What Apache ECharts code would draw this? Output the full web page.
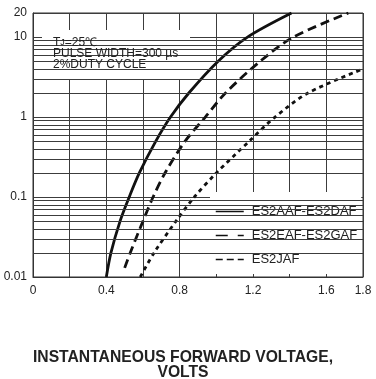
<!DOCTYPE html>
<html>
<head>
<meta charset="utf-8">
<script src="https://cdn.jsdelivr.net/npm/echarts@6/dist/echarts.min.js"></script>
<style>
  html, body { margin: 0; padding: 0; background: #fff; }
  #chart { width: 376px; height: 379px; }
</style>
</head>
<body>
<div id="chart"></div>
<script>
// forward voltage (V) vs forward current (A)
const seriesNames = ['ES2AAF-ES2DAF', 'ES2EAF-ES2GAF', 'ES2JAF'];
const es2aData = [[0.40, 0.01], [0.425, 0.02], [0.475, 0.05], [0.525, 0.1], [0.58, 0.2], [0.67, 0.5], [0.75, 1], [0.85, 2], [1.01, 5], [1.17, 10], [1.41, 20]];
const es2eData = [[0.50, 0.013], [0.53, 0.02], [0.60, 0.05], [0.655, 0.1], [0.72, 0.2], [0.83, 0.5], [0.94, 1], [1.05, 2], [1.24, 5], [1.42, 10], [1.72, 20]];
const es2jData = [[0.585, 0.01], [0.66, 0.02], [0.78, 0.05], [0.88, 0.1], [1.00, 0.2], [1.18, 0.5], [1.32, 1], [1.50, 2], [1.80, 4]];

const xTickLabels = ['0', '0.4', '0.8', '1.2', '1.6', '1.8'];
const yMinorLines = [0.02, 0.03, 0.04, 0.05, 0.06, 0.07, 0.08, 0.09,
  0.2, 0.3, 0.4, 0.5, 0.6, 0.7, 0.8, 0.9,
  2, 3, 4, 5, 6, 7, 8, 9];

const FONT = 'Liberation Sans';
const gridColor = '#3c3c3c';

let chart = echarts.init(document.getElementById('chart'));

function curve(name, data, dash) {
  return {
    name: name,
    type: 'line',
    symbol: 'none',
    smooth: 0.3,
    lineStyle: { color: '#111', width: 2.8, type: dash },
    itemStyle: { color: '#111' },
    data: data
  }
}

let series = [
  curve(seriesNames[0], es2aData, 'solid'),
  curve(seriesNames[1], es2eData, [9, 5]),
  curve(seriesNames[2], es2jData, [4, 4])
]
// minor log grid lines
series[0].markLine = {
  silent: true,
  symbol: ['none', 'none'],
  label: { show: false },
  lineStyle: { color: gridColor, width: 1, type: 'solid' },
  data: yMinorLines.map(v => ({ yAxis: v }))
}

let option = {
  animation: false,
  grid: {
    left: 33, right: 13, top: 13, bottom: 102,
    show: true, borderColor: '#333', borderWidth: 1
  },
  xAxis: {
    type: 'value',
    min: 0, max: 1.8, interval: 0.2,
    axisLine: { show: true, lineStyle: { color: '#333' } },
    axisTick: { show: false },
    splitLine: { show: true, lineStyle: { color: gridColor, width: 1 } },
    axisLabel: {
      color: '#222', fontSize: 12, fontFamily: FONT, margin: 8,
      formatter: function (value) {
        let hit = xTickLabels.find(t => Math.abs(parseFloat(t) - value) < 1e-6)
        return hit === undefined ? '' : hit
      }
    }
  },
  yAxis: {
    type: 'log', logBase: 10,
    min: 0.01, max: 20,
    axisLine: { show: true, lineStyle: { color: '#333' } },
    axisTick: { show: false },
    splitLine: { show: true, lineStyle: { color: gridColor, width: 1 } },
    axisLabel: {
      color: '#222', fontSize: 12, fontFamily: FONT, margin: 6,
      formatter: function (value) {
        return String(Math.round(value * 100) / 100)
      }
    }
  },
  legend: {
    orient: 'vertical',
    left: 210, top: 192,
    padding: [13, 4, 8, 5],
    backgroundColor: '#fff',
    itemWidth: 28, itemHeight: 12, itemGap: 11,
    itemStyle: { color: 'rgba(0,0,0,0)', borderWidth: 0 },
    lineStyle: { width: 1.5 },
    textStyle: { color: '#222', fontSize: 13, fontFamily: FONT, padding: [0, 0, 0, 3] },
    data: [
      { name: seriesNames[0], lineStyle: { type: 'solid' } },
      { name: seriesNames[1], lineStyle: { type: [12, 10] } },
      { name: seriesNames[2], lineStyle: { type: [7, 4] } }
    ]
  },
  title: {
    left: 53, top: 37, padding: 0,
    text: 'T{b|J}=25℃\nPULSE WIDTH=300 µs\n2%DUTY CYCLE',
    textStyle: {
      fontSize: 12, fontWeight: 'normal', fontFamily: FONT, color: '#222', lineHeight: 11,
      rich: {
        b: { fontSize: 9, fontWeight: 'normal', fontFamily: FONT, color: '#222', lineHeight: 11 }
      }
    }
  },
  graphic: [
    {
      type: 'rect', z: 5,
      shape: { x: 42, y: 30, width: 148, height: 50 },
      style: { fill: '#fff' }
    },
    {
      type: 'text', z: 6, x: 183, y: 350,
      style: {
        text: 'INSTANTANEOUS FORWARD VOLTAGE,\nVOLTS',
        font: 'bold 15.7px ' + FONT,
        fill: '#222',
        textAlign: 'center',
        lineHeight: 15
      }
    }
  ],
  series: series
};
chart.setOption(option)
</script>
</body>
</html>
